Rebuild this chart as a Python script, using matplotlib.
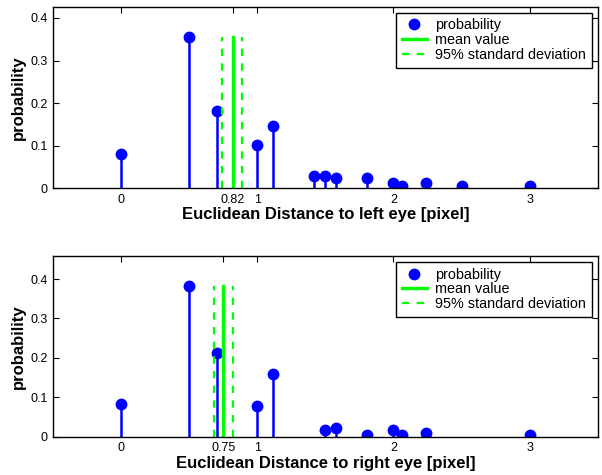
import numpy as np
import matplotlib.pyplot as plt

plt.rcParams["font.family"] = ["Liberation Sans", "DejaVu Sans"]

# distances on the half pixel grid
distLeft = [0.0, 0.5, 0.707, 1.0, 1.118, 1.414, 1.5, 1.581, 1.803, 2.0, 2.062, 2.236, 2.5, 3.0]
probLeft = [0.080, 0.355, 0.181, 0.101, 0.147, 0.029, 0.029, 0.024, 0.024, 0.012, 0.006, 0.012, 0.006, 0.006]
meanLeft = 0.82
stdLeft = [0.74, 0.89]

distRight = [0.0, 0.5, 0.707, 1.0, 1.118, 1.5, 1.581, 1.803, 2.0, 2.062, 2.236, 3.0]
probRight = [0.084, 0.382, 0.213, 0.078, 0.158, 0.017, 0.022, 0.005, 0.016, 0.004, 0.010, 0.005]
meanRight = 0.75
stdRight = [0.685, 0.825]

xlabels = ["Euclidean Distance to left eye [pixel]", "Euclidean Distance to right eye [pixel]"]
meanLabels = ["0.82", "0.75"]

fig = plt.figure(figsize=(6.02, 4.75), dpi=100)
axTop = fig.add_axes([0.088, 0.6036, 0.905, 0.382])
axBot = fig.add_axes([0.088, 0.0806, 0.905, 0.3804])

panels = [
    (axTop, distLeft, probLeft, meanLeft, stdLeft, meanLabels[0], xlabels[0]),
    (axBot, distRight, probRight, meanRight, stdRight, meanLabels[1], xlabels[1]),
]

for ax, dist, prob, mu, sd, muLabel, xlab in panels:
    yTop = max(prob)
    ml, sl, bl = ax.stem(dist, prob, linefmt="b-", markerfmt="bo", basefmt=" ")
    plt.setp(sl, linewidth=1.8, color=(0, 0, 1))
    plt.setp(ml, markersize=7.5, color=(0, 0, 1))
    ml.set_label("probability")
    ax.plot([mu, mu], [0, yTop], color=(0, 1, 0), linewidth=2.4, label="mean value")
    ax.plot([sd[0], sd[0]], [0, yTop], color=(0, 1, 0), linewidth=1.6,
            linestyle=(0, (3.3, 3.3)), label="95% standard deviation")
    ax.plot([sd[1], sd[1]], [0, yTop], color=(0, 1, 0), linewidth=1.6,
            linestyle=(0, (3.3, 3.3)))

    ax.set_xlim(-0.5, 3.5)
    ax.set_ylim(0, 1.2 * yTop)
    ax.set_xticks([0, mu, 1, 2, 3])
    ax.set_xticklabels(["0", muLabel, "1", "2", "3"])
    ax.set_yticks([0, 0.1, 0.2, 0.3, 0.4])
    ax.set_yticklabels(["0", "0.1", "0.2", "0.3", "0.4"])
    ax.tick_params(direction="in", top=True, right=True, length=4, width=0.8,
                   labelsize=9, pad=4)
    for s in ax.spines.values():
        s.set_linewidth(1.0)
    ax.set_xlabel(xlab, fontsize=12, fontweight="bold", labelpad=1)
    ax.set_ylabel("probability", fontsize=12, fontweight="bold", labelpad=3)
    leg = ax.legend(loc="upper right", fancybox=False, edgecolor="black",
                    framealpha=1, fontsize=10.4, borderpad=0.4, labelspacing=0.05,
                    handlelength=1.7, handletextpad=0.6, borderaxespad=0.4)
    leg.get_frame().set_linewidth(1.0)

fig.savefig("out.png", dpi=100)
